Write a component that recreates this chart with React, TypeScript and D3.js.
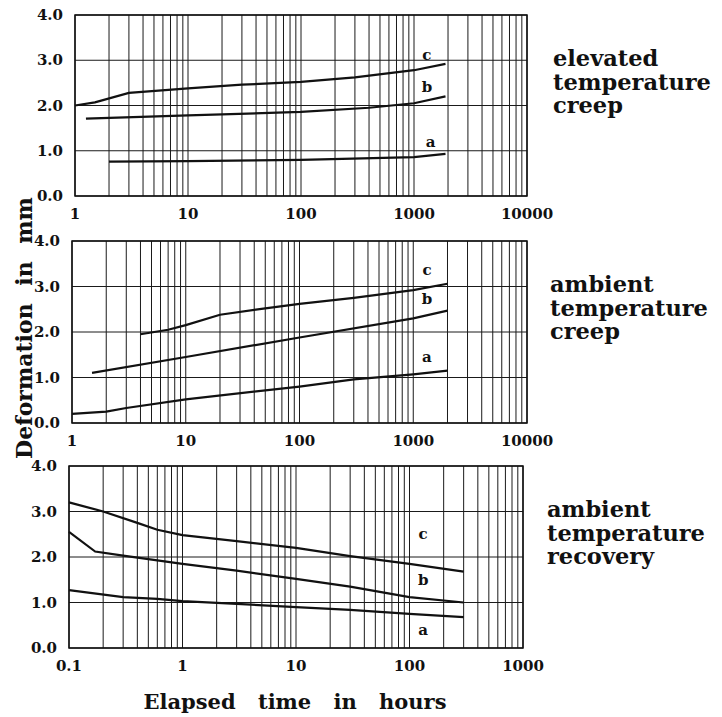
import React from 'react';
import * as d3 from 'd3';

// Elevated temperature creep (hours, mm)
const elevTimeA = [2, 10, 100, 1000, 1900];
const elevA = [0.76, 0.77, 0.8, 0.86, 0.93];
const elevTimeB = [1.25, 10, 100, 400, 1000, 1900];
const elevB = [1.71, 1.78, 1.86, 1.95, 2.05, 2.2];
const elevTimeC = [1, 1.5, 3, 10, 30, 100, 300, 1000, 1900];
const elevC = [2.0, 2.07, 2.28, 2.38, 2.46, 2.52, 2.62, 2.78, 2.92];

// Ambient temperature creep
const ambTimeA = [1, 2, 3, 10, 100, 300, 1000, 2000];
const ambA = [0.2, 0.25, 0.33, 0.52, 0.8, 0.96, 1.07, 1.15];
const ambTimeB = [1.5, 10, 100, 1000, 2000];
const ambB = [1.1, 1.45, 1.88, 2.3, 2.47];
const ambTimeC = [4, 7, 10, 20, 50, 100, 300, 1000, 2000];
const ambC = [1.95, 2.05, 2.15, 2.38, 2.52, 2.62, 2.75, 2.92, 3.06];

// Ambient temperature recovery
const recTimeA = [0.1, 0.3, 0.6, 1, 3, 10, 30, 100, 300];
const recA = [1.27, 1.12, 1.08, 1.03, 0.97, 0.9, 0.84, 0.75, 0.68];
const recTimeB = [0.1, 0.17, 0.3, 1, 3, 10, 30, 100, 300];
const recB = [2.55, 2.12, 2.03, 1.85, 1.7, 1.52, 1.35, 1.12, 1.0];
const recTimeC = [0.1, 0.2, 0.4, 0.6, 1, 3, 10, 30, 100, 300];
const recC = [3.2, 3.0, 2.75, 2.6, 2.48, 2.35, 2.2, 2.02, 1.85, 1.68];

const seriesNames = ['a', 'b', 'c'];
const yTicks = [0, 1, 2, 3, 4];
const creepTicks = ['1', '10', '100', '1000', '10000'];
const recoveryTicks = ['0.1', '1', '10', '100', '1000'];

// label anchor (time, value) per series a,b,c
const elevLabelTime = [1400, 1300, 1300];
const elevLabelVal = [1.2, 2.4, 3.12];
const ambLabelTime = [1320, 1320, 1320];
const ambLabelVal = [1.45, 2.72, 3.37];
const recLabelTime = [132, 132, 132];
const recLabelVal = [0.4, 1.49, 2.5];

const FONT = '"DejaVu Serif", serif';

type Panel = {
  left: number; right: number; top: number; bottom: number;
  domain: [number, number];
  ticks: string[];
  times: number[][]; values: number[][];
  labelTime: number[]; labelVal: number[];
  title: string[]; titleX: number; titleY: number;
};

const panels: Panel[] = [
  {
    left: 75, right: 527, top: 15, bottom: 196, domain: [1, 10000], ticks: creepTicks,
    times: [elevTimeA, elevTimeB, elevTimeC], values: [elevA, elevB, elevC],
    labelTime: elevLabelTime, labelVal: elevLabelVal,
    title: ['elevated', 'temperature', 'creep'], titleX: 553, titleY: 66,
  },
  {
    left: 72, right: 527, top: 241, bottom: 423, domain: [1, 10000], ticks: creepTicks,
    times: [ambTimeA, ambTimeB, ambTimeC], values: [ambA, ambB, ambC],
    labelTime: ambLabelTime, labelVal: ambLabelVal,
    title: ['ambient', 'temperature', 'creep'], titleX: 550, titleY: 292,
  },
  {
    left: 69, right: 523, top: 466, bottom: 648, domain: [0.1, 1000], ticks: recoveryTicks,
    times: [recTimeA, recTimeB, recTimeC], values: [recA, recB, recC],
    labelTime: recLabelTime, labelVal: recLabelVal,
    title: ['ambient', 'temperature', 'recovery'], titleX: 547, titleY: 517,
  },
];

const LogPanel = ({ p }: { p: Panel }) => {
  const x = d3.scaleLog().domain(p.domain).range([p.left, p.right]);
  const y = d3.scaleLinear().domain([0, 4]).range([p.bottom, p.top]);

  // every 1..9 x 10^k line of the log paper
  const grid: number[] = [];
  const lo = Math.round(Math.log10(p.domain[0]));
  const hi = Math.round(Math.log10(p.domain[1]));
  for (let e = lo; e < hi; e++) {
    for (let k = 1; k < 10; k++) grid.push(k * Math.pow(10, e));
  }
  grid.push(p.domain[1]);

  const line = d3.line<[number, number]>()
    .x(d => x(d[0]))
    .y(d => y(d[1]));

  return (
    <g>
      {grid.map((g, i) => (
        <line key={'v' + i} x1={x(g)} x2={x(g)} y1={p.top} y2={p.bottom}
          stroke="#1a1a1a" strokeWidth={1} />
      ))}
      {yTicks.map(t => (
        <line key={'h' + t} x1={p.left} x2={p.right} y1={y(t)} y2={y(t)}
          stroke="#1a1a1a" strokeWidth={1} />
      ))}
      <rect x={p.left} y={p.top} width={p.right - p.left} height={p.bottom - p.top}
        fill="none" stroke="#111" strokeWidth={1.5} />

      {p.times.map((ts, s) => (
        <path key={'s' + s}
          d={line(ts.map((t, i) => [t, p.values[s][i]] as [number, number])) || ''}
          fill="none" stroke="#111" strokeWidth={2.2} />
      ))}
      {seriesNames.map((n, s) => (
        <text key={'l' + n} x={x(p.labelTime[s])} y={y(p.labelVal[s])}
          textAnchor="middle" dominantBaseline="central"
          fontFamily={FONT} fontWeight="bold" fontSize={15} fill="#111">{n}</text>
      ))}

      {yTicks.map(t => (
        <text key={'yt' + t} x={p.left - 12} y={y(t)} textAnchor="end" dominantBaseline="central"
          fontFamily={FONT} fontWeight="bold" fontSize={15} fill="#111">{t.toFixed(1)}</text>
      ))}
      {p.ticks.map(t => (
        <text key={'xt' + t} x={x(+t)} y={p.bottom + 23} textAnchor="middle"
          fontFamily={FONT} fontWeight="bold" fontSize={15} fill="#111">{t}</text>
      ))}

      {p.title.map((w, i) => (
        <text key={'t' + i} x={p.titleX} y={p.titleY + i * 23.5}
          fontFamily={FONT} fontWeight="bold" fontSize={22.5} fill="#111">{w}</text>
      ))}
    </g>
  );
};

export default function App() {
  return (
    <svg width={722} height={717} viewBox="0 0 722 717"
      style={{ position: 'absolute', left: 0, top: 0, background: '#fff' }}>
      <rect width={722} height={717} fill="#fff" />
      {panels.map((p, i) => <LogPanel key={i} p={p} />)}
      <text transform="translate(24,328) rotate(-90)" textAnchor="middle" dominantBaseline="central"
        fontFamily={FONT} fontWeight="bold" fontSize={22} wordSpacing={10} fill="#111">
        Deformation in mm
      </text>
      <text x={295} y={709} textAnchor="middle"
        fontFamily={FONT} fontWeight="bold" fontSize={21} wordSpacing={15} fill="#111">
        Elapsed time in hours
      </text>
    </svg>
  );
}
